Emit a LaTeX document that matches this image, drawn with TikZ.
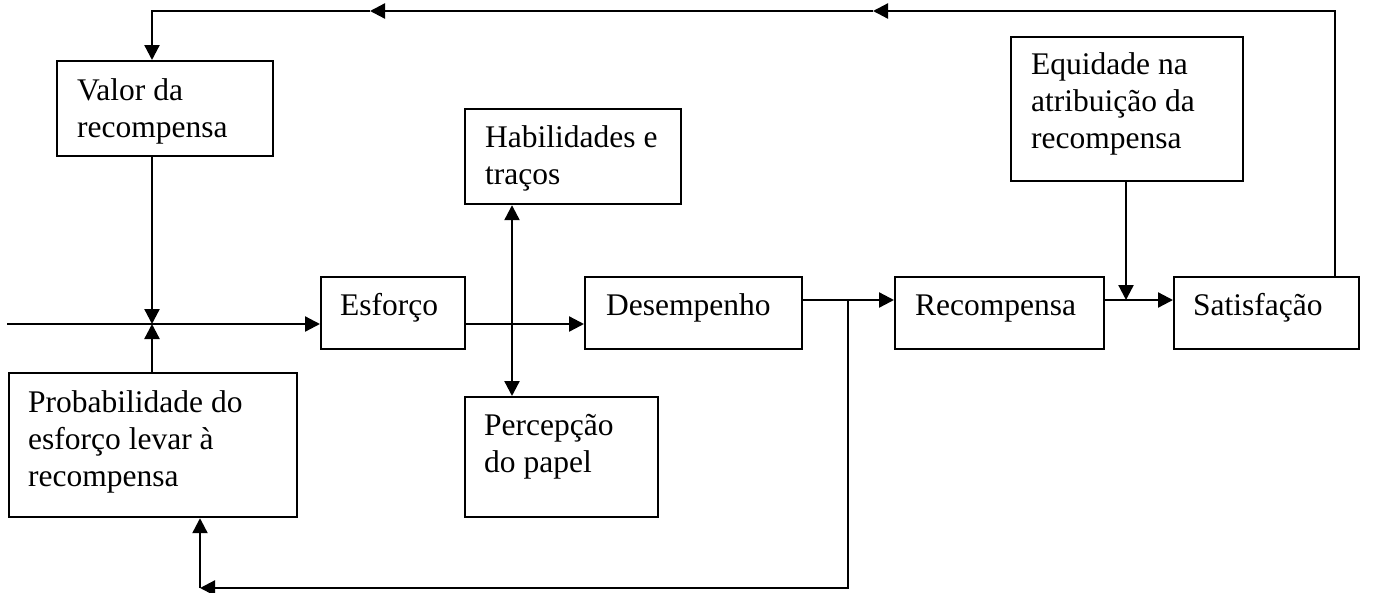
\documentclass[tikz,border=0pt]{standalone}
\usepackage{fontspec}
\setmainfont{Liberation Serif}
\usetikzlibrary{arrows.meta,calc}
\tikzset{
  box/.style={draw, line width=2.2pt, inner sep=0pt, anchor=north west},
  lbl/.style={anchor=base west, inner sep=0pt, font=\fontsize{31.5}{37}\selectfont},
  conn/.style={line width=2.3pt},
  arr/.style={conn, -{Triangle[length=15pt,width=15pt]}},
  darr/.style={conn, {Triangle[length=15pt,width=15pt]}-{Triangle[length=15pt,width=15pt]}},
}
\newcommand{\lines}[2]{\vtop{\baselineskip=37pt\hbox{#1}\hbox{#2}}}
\newcommand{\linesiii}[3]{\vtop{\baselineskip=37pt\hbox{#1}\hbox{#2}\hbox{#3}}}
\begin{document}
\begin{tikzpicture}[x=1pt,y=-1pt]
\useasboundingbox (0,0) rectangle (1381,592);
% boxes
\node[box, minimum width=216pt, minimum height=95pt] (valor) at (56,60) {};
\node[box, minimum width=288pt, minimum height=144pt] (prob) at (8,372) {};
\node[box, minimum width=144pt, minimum height=72pt] (esf) at (320,276) {};
\node[box, minimum width=216pt, minimum height=95pt] (hab) at (464,108) {};
\node[box, minimum width=193pt, minimum height=120pt] (perc) at (464,396) {};
\node[box, minimum width=217pt, minimum height=72pt] (des) at (584,276) {};
\node[box, minimum width=209pt, minimum height=72pt] (rec) at (894,276) {};
\node[box, minimum width=185pt, minimum height=72pt] (sat) at (1173,276) {};
\node[box, minimum width=232pt, minimum height=144pt] (equi) at (1010,36) {};
% labels
\node[lbl] (tvalor) at ($(valor.north west)+(21,40)$) {\lines{Valor da}{recompensa}};
\node[lbl] (tprob) at ($(prob.north west)+(20,40)$) {\linesiii{Probabilidade do}{esforço levar à}{recompensa}};
\node[lbl] (tesf) at ($(esf.north west)+(20,39)$) {Esforço};
\node[lbl] (thab) at ($(hab.north west)+(21,39)$) {\lines{Habilidades e}{traços}};
\node[lbl] (tperc) at ($(perc.north west)+(20,39)$) {\lines{Percepção}{do papel}};
\node[lbl] (tdes) at ($(des.north west)+(22,39)$) {Desempenho};
\node[lbl] (trec) at ($(rec.north west)+(21,39)$) {Recompensa};
\node[lbl] (tsat) at ($(sat.north west)+(20,39)$) {Satisfação};
\node[lbl] (tequi) at ($(equi.north west)+(21,38)$) {\linesiii{Equidade na}{atribuição da}{recompensa}};
% helper coordinates
\coordinate (start) at (7,324);
\coordinate (jv) at (152,324);
\coordinate (t1) at (873,11);
\coordinate (t2) at (370,11);
\coordinate (jd) at (848,300);
\coordinate (b1) at (200,588);
\coordinate (jr) at (1126,300);
% connectors
\draw[conn] (start) -- (jv);
\draw[arr] (jv) -- (esf.west |- jv);
\draw[arr] (valor.south -| jv) -- (jv);
\draw[arr] (prob.north -| jv) -- (jv);
\draw[arr] (esf.east |- jv) -- (des.west |- jv);
\draw[darr] (hab.south -| 512,0) -- (perc.north -| 512,0);
\draw[arr] (des.east |- jd) -- (rec.west |- jd);
\draw[arr] (jd) |- (b1);
\draw[arr] (b1) -- (prob.south -| b1);
\draw[arr] (rec.east |- jr) -- (sat.west |- jr);
\draw[arr] (equi.south -| jr) -- (jr);
\draw[arr] (sat.north -| 1335,0) |- (t1);
\draw[arr] (t1) -- (t2);
\draw[arr] (t2) -| (valor.north -| jv);
\end{tikzpicture}
\end{document}
